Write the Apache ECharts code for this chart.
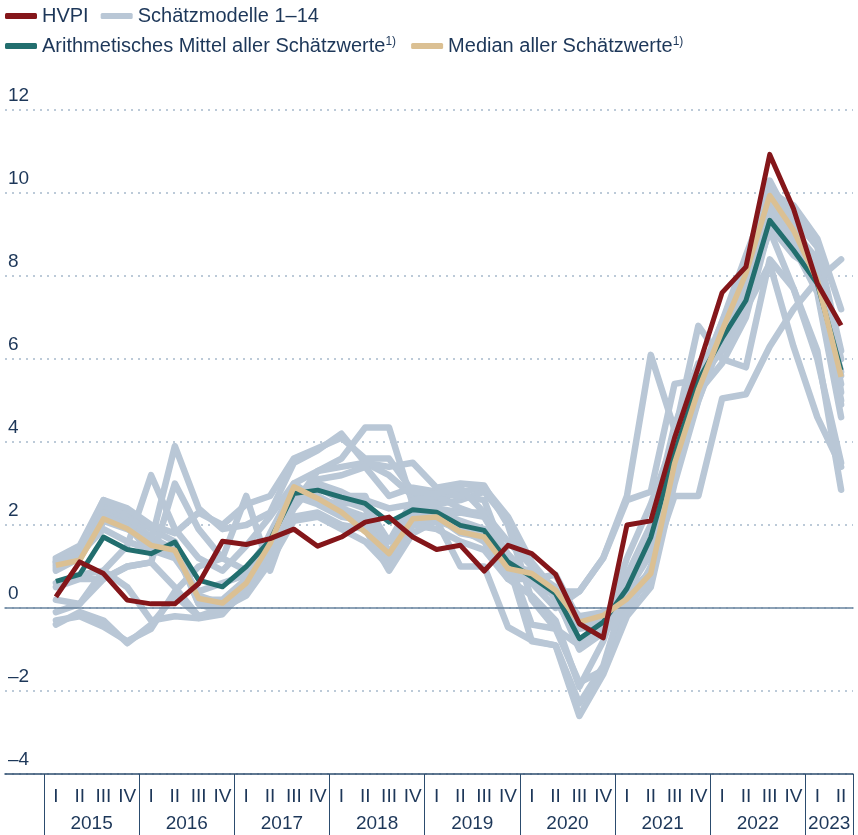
<!DOCTYPE html>
<html>
<head>
<meta charset="utf-8">
<script src="https://cdn.jsdelivr.net/npm/echarts@6/dist/echarts.min.js"></script>
<style>
html,body{margin:0;padding:0;background:#fff;}
#chart{width:858px;height:835px;}
</style>
</head>
<body>
<div id="chart"></div>
<script>
// ---- data ----
const quarterLabels = ['I','II','III','IV','I','II','III','IV','I','II','III','IV','I','II','III','IV','I','II','III','IV','I','II','III','IV','I','II','III','IV','I','II','III','IV','I','II'];
const years = ['2015','2016','2017','2018','2019','2020','2021','2022','2023'];
const yTicks = [-4,-2,0,2,4,6,8,10,12];

const hvpi   = [0.27,1.11,0.83,0.19, 0.10,0.10,0.59,1.61, 1.53,1.67,1.90,1.49, 1.71,2.07,2.19,1.71, 1.41,1.51,0.89,1.51, 1.31,0.81,-0.38,-0.72, 2.00,2.10,4.10,5.80, 7.60,8.22,10.93,9.62, 7.82,6.81];
const mean   = [0.64,0.81,1.71,1.41, 1.31,1.59,0.67,0.51, 1.00,1.63,2.76,2.84, 2.67,2.52,2.07,2.37, 2.31,1.99,1.87,1.11, 0.75,0.35,-0.74,-0.34, 0.47,1.70,3.72,5.49, 6.50,7.41,9.34,8.62, 7.82,5.73];
const median = [1.03,1.15,2.15,1.91, 1.51,1.39,0.23,0.12, 0.60,1.55,2.92,2.64, 2.31,1.83,1.31,2.15, 2.19,1.83,1.71,0.95, 0.83,0.43,-0.34,-0.18, 0.22,0.83,3.48,5.25, 6.69,8.06,9.94,9.10, 7.90,5.57];

const model01 = [1.2,1.5,2.6,2.3, 1.9,1.6,0.2,0.0, 0.5,1.5,2.8,2.9, 2.6,2.4,1.2,2.2, 2.3,2.1,1.9,1.0, 0.6,0.3,-0.3,-0.2, 0.2,0.9,3.6,5.3, 6.5,8.0,9.8,8.8, 7.9,5.7];
const model02 = [1.1,1.4,2.5,2.2, 1.7,1.4,0.1,-0.1, 0.4,1.4,2.9,2.7, 2.4,2.2,1.0,2.1, 2.2,1.8,1.7,0.8, 0.8,0.4,-0.4,-0.3, 0.1,0.7,3.3,5.0, 6.5,7.6,9.4,9.4, 8.0,5.4];
const model03 = [1.0,1.3,2.4,2.1, 1.6,1.3,0.3,0.1, 0.6,1.6,3.0,2.6, 2.3,2.0,1.3,2.3, 2.4,2.0,1.8,1.0, 0.9,0.5,-0.2,-0.1, 0.0,0.8,3.9,5.4, 6.9,8.2,10.3,9.2, 7.9,5.0];
const model04 = [1.05,1.3,2.3,2.0, 1.5,1.5,0.2,0.2, 0.7,1.5,2.7,2.5, 2.2,2.1,1.1,2.0, 2.1,1.9,1.6,0.7, 0.7,0.3,-0.5,-0.4, 0.2,0.6,3.2,5.2, 6.7,8.1,10.0,9.0, 7.9,5.6];
const model05 = [0.95,1.2,2.1,1.9, 1.6,3.9,2.4,1.9, 2.0,2.3,3.5,3.8, 4.2,3.5,3.2,2.7, 2.6,2.8,2.9,2.2, 1.1,0.4,0.4,1.2, 2.7,6.1,4.3,5.6, 6.8,8.4,10.2,9.4, 8.7,6.2];
const model06 = [0.6,0.8,0.9,1.5, 3.2,1.9,1.2,0.9, 1.5,2.2,3.0,3.3, 3.6,4.35,4.35,2.5, 2.5,2.6,2.8,2.1, 1.0,0.2,-0.8,-0.4, 0.6,1.6,4.0,5.5, 6.2,7.2,8.3,6.3, 4.6,3.4];
const model07 = [0.5,0.7,0.7,1.0, 1.1,3.0,1.9,1.2, 2.7,0.9,2.5,3.3, 3.4,3.5,3.4,3.5, 2.9,3.0,2.95,2.0, 0.2,-0.5,-0.9,-0.6, 0.4,1.3,4.2,6.8, 6.0,5.8,8.4,7.7, 6.2,2.85];
const model08 = [-0.3,-0.2,-0.45,-0.8, -0.5,0.4,1.0,1.2, 0.9,1.7,2.6,3.0, 2.8,2.5,1.6,2.6, 2.7,2.4,2.2,1.2, -0.4,-0.5,-1.8,-1.5, 0.3,0.9,3.5,5.5, 6.3,7.9,9.9,9.1, 8.4,6.0];
const model09 = [-0.4,-0.1,-0.3,-0.85, -0.4,0.3,-0.2,-0.1, 0.4,1.3,2.4,3.1, 3.2,3.4,2.7,2.9, 2.8,2.7,2.6,1.1, -0.8,-0.9,-2.6,-1.6, -0.2,0.5,3.0,5.0, 6.6,8.3,10.1,9.6, 8.8,5.2];
const model10 = [-0.1,0.1,0.9,0.5, -0.3,-0.2,-0.25,-0.15, 0.5,1.2,2.2,2.3, 2.0,1.9,0.9,1.8, 2.1,1.0,1.0,-0.46, -0.78,-0.9,-2.3,-1.4, 0.5,1.9,3.8,5.6, 6.6,7.8,9.6,8.7, 7.6,4.6];
const model11 = [0.2,0.1,0.7,1.0, 1.1,0.5,-0.2,0.0, 0.3,1.1,2.1,2.2, 1.9,1.6,1.0,2.0, 1.9,1.6,1.4,0.7, 0.3,-0.3,-1.9,-0.8, 0.8,2.0,4.4,5.9, 6.4,7.4,9.1,7.7, 6.0,3.5];
const model12 = [1.15,1.4,2.6,2.4, 2.0,1.8,2.3,2.0, 2.5,2.7,3.6,3.85, 4.1,3.6,3.6,2.8, 2.75,2.9,2.3,1.2, 0.6,0.0,0.4,1.2, 2.6,2.8,5.4,5.5, 6.9,8.5,10.0,9.7, 8.9,7.2];
const model13 = [0.9,1.2,2.2,2.0, 1.3,1.5,0.1,0.1, 0.6,1.8,2.9,2.6, 2.5,2.6,2.4,2.5, 2.4,2.3,2.3,1.6, 1.0,0.3,-1.0,-0.6, -0.1,1.0,2.7,2.7, 5.05,5.15,6.3,7.2, 7.9,8.4];
const model14 = [1.1,1.3,1.9,1.6, 1.4,1.2,0.4,0.6, 0.8,1.5,2.6,2.9, 2.7,2.7,1.3,2.4, 2.2,2.3,2.2,1.3, 0.7,0.8,-0.3,-0.5, 1.2,2.5,4.1,5.2, 5.9,7.0,9.2,8.5, 8.1,4.9];
const models = [model01,model02,model03,model04,model05,model06,model07,model08,model09,model10,model11,model12,model13,model14];

// ---- styling ----
const NAVY = '#1d3759';
const FONT = "'Liberation Sans', Arial, sans-serif";
const FS = 19;
const GRAY = '#b9c7d6', RED = '#84161a', TEAL = '#226e6e', TAN = '#dbc093';
const NAME_HVPI = 'HVPI', NAME_MOD = 'Schätzmodelle 1–14', NAME_MEAN = 'Arithmetisches Mittel aller Schätzwerte', NAME_MED = 'Median aller Schätzwerte';

// year axis: category boundaries (35 = 34 quarters + 1)
const yearAxisData = new Array(quarterLabels.length + 1).fill('');
years.forEach((y, k) => {
  const startQ = k * 4;
  const nQ = Math.min(4, quarterLabels.length - startQ);
  yearAxisData[startQ + nQ / 2] = y;
});

const chart = echarts.init(document.getElementById('chart'), null, {renderer: 'canvas'});

const series = [];
models.forEach(m => {
  series.push({
    name: NAME_MOD, type: 'line', xAxisIndex: 1, yAxisIndex: 1, data: m,
    symbol: 'none', color: GRAY, lineStyle: {color: GRAY, width: 6.5, cap: 'round', join: 'round'}, z: 2, silent: true
  });
});
series.push({name: NAME_MEAN, type: 'line', xAxisIndex: 1, yAxisIndex: 1, data: mean, symbol: 'none', color: TEAL,
  lineStyle: {color: TEAL, width: 5, join: 'round'}, z: 5});
series.push({name: NAME_MED, type: 'line', xAxisIndex: 1, yAxisIndex: 1, data: median, symbol: 'none', color: TAN,
  lineStyle: {color: TAN, width: 5.5, join: 'round'}, z: 5});
series.push({name: NAME_HVPI, type: 'line', xAxisIndex: 1, yAxisIndex: 1, data: hvpi, symbol: 'none', color: RED,
  lineStyle: {color: RED, width: 5, join: 'round'}, z: 6});

const legendText = {
  color: NAVY, fontSize: 20, fontFamily: FONT,
  rich: {s: {fontSize: 12, fontFamily: FONT, color: NAVY, verticalAlign: 'top', lineHeight: 12}}
};

const option = {
  animation: false,
  backgroundColor: '#fff',
  legend: [
    {data: [NAME_HVPI, NAME_MOD], left: 5, top: 6, icon: 'roundRect', itemWidth: 32, itemHeight: 6, itemGap: 12,
     selectedMode: false, textStyle: legendText, padding: 0},
    {data: [NAME_MEAN, NAME_MED], left: 5, top: 36, icon: 'roundRect', itemWidth: 32, itemHeight: 6, itemGap: 15,
     selectedMode: false, textStyle: legendText, padding: 0,
     formatter: n => n + '{s|1)}'}
  ],
  grid: [
    {left: 5, right: 5, top: 110, height: 664},
    {left: 44, right: 5, top: 110, height: 664},
    {left: 44, right: 5, top: 774, height: 61}
  ],
  xAxis: [
    {gridIndex: 0, type: 'value', position: 'bottom', min: 0, max: 1, z: 3,
     axisLine: {show: true, onZero: false, lineStyle: {color: '#2c4c6e', width: 1.5}},
     axisTick: {show: false}, axisLabel: {show: false}, splitLine: {show: false}},
    {gridIndex: 1, type: 'category', data: quarterLabels, boundaryGap: true, show: false},
    {gridIndex: 2, type: 'category', data: quarterLabels, boundaryGap: true, position: 'top',
     axisLine: {show: false}, axisTick: {show: false},
     axisLabel: {inside: true, margin: 23, interval: 0, color: NAVY, fontSize: FS, fontFamily: FONT, verticalAlign: 'middle'},
     splitLine: {show: false}},
    {gridIndex: 2, type: 'category', data: yearAxisData, boundaryGap: false, position: 'bottom',
     axisLine: {show: false}, axisTick: {show: false},
     axisLabel: {inside: true, margin: 11, interval: 0, color: NAVY, fontSize: FS, fontFamily: FONT, verticalAlign: 'middle'},
     splitLine: {show: true, interval: (i) => (i % 4 === 0) || i === quarterLabels.length,
       lineStyle: {color: '#2c4c6e', width: 1, type: 'solid'}}},
    {gridIndex: 0, type: 'value', position: 'top', min: 0, max: 1, z: 3,
     axisLine: {show: true, onZero: true, lineStyle: {color: '#68849f', width: 1.5}},
     axisTick: {show: false}, axisLabel: {show: false}, splitLine: {show: false}}
  ],
  yAxis: [
    {gridIndex: 0, type: 'value', min: yTicks[0], max: yTicks[yTicks.length - 1], interval: 2,
     axisLine: {show: false}, axisTick: {show: false},
     axisLabel: {inside: true, margin: 3, align: 'left', verticalAlign: 'bottom', padding: [0, 0, 5, 0],
       color: NAVY, fontSize: FS, fontFamily: FONT,
       formatter: v => (v < 0 ? '–' + Math.abs(v) : String(v))},
     splitLine: {show: true, interval: 0, lineStyle: {color: '#a7b9cb', width: 1.5, type: [2, 5]}}},
    {gridIndex: 1, type: 'value', min: yTicks[0], max: yTicks[yTicks.length - 1], interval: 2, show: false,
     splitLine: {show: false}},
    {gridIndex: 2, type: 'value', min: 0, max: 1, show: false, splitLine: {show: false}}
  ],
  series: series
};

chart.setOption(option);
</script>
</body>
</html>
